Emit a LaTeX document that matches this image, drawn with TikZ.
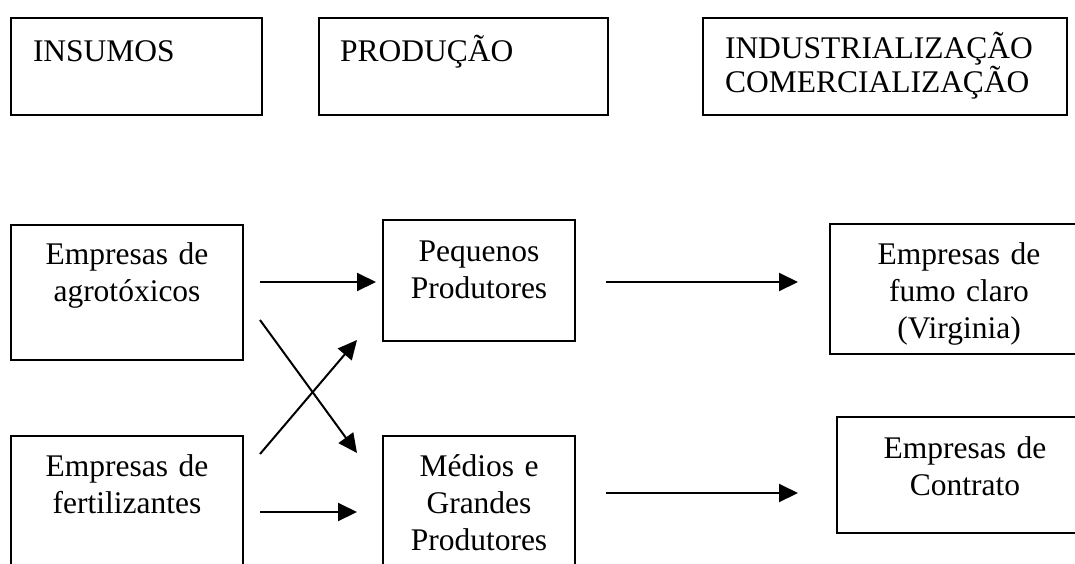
\documentclass[tikz,border=0pt]{standalone}
\usepackage{fontspec}
\setmainfont{Liberation Serif}
\usetikzlibrary{arrows.meta}

\tikzset{
  caixa/.style={draw, line width=2pt, inner ysep=0pt, anchor=north west},
  titulo/.style={caixa, align=left, inner xsep=22pt,
    font=\fontsize{31.5}{34.5}\selectfont},
  bloco/.style={caixa, align=center, inner xsep=0pt,
    font=\fontsize{31.5}{37}\selectfont},
  seta/.style={line width=2pt, -{Triangle[length=19pt,width=18pt]}}
}

\begin{document}
\begin{tikzpicture}[x=1pt,y=-1pt]

      \useasboundingbox (0,0) rectangle (1075,563);
      \clip (0,0) rectangle (1075,563);

      % cabecalho
      \node[titulo, text width=207pt, text height=43pt, text depth=54pt]
        (insumos) at (10,17) {INSUMOS};
      \node[titulo, inner xsep=21pt, text width=247pt, text height=43pt, text depth=54pt]
        (producao) at (318,17) {PRODUÇÃO};
      \node[titulo, text width=320pt, text height=40pt, text depth=57pt]
        (industria) at (702,17) {INDUSTRIALIZAÇÃO\\COMERCIALIZAÇÃO};

      % caixas
      \node[bloco, text width=232pt, text height=39pt, text depth=96pt]
        (agro) at (10,224) {Empresas de\\agrotóxicos};
      \node[bloco, text width=232pt, text height=40pt, text depth=150pt]
        (fert) at (10,435) {Empresas de\\fertilizantes};
      \node[bloco, text width=192pt, text height=41pt, text depth=80pt]
        (peq) at (382,219) {Pequenos\\Produtores};
      \node[bloco, text width=192pt, text height=40pt, text depth=150pt]
        (medios) at (382,435) {Médios e\\Grandes\\Produtores};
      \node[bloco, text width=258pt, text height=40pt, text depth=90pt]
        (fumo) at (829,223) {Empresas de\\fumo claro\\(Virginia)};
      \node[bloco, text width=256pt, text height=41pt, text depth=75pt]
        (contrato) at (836,416) {Empresas de\\Contrato};

      % pontas das setas
      \coordinate (agro1) at (260,282);
      \coordinate (agro2) at (260,320);
      \coordinate (fert1) at (260,454);
      \coordinate (fert2) at (260,512);
      \coordinate (peq1)  at (376,282);
      \coordinate (peq2)  at (357,340);
      \coordinate (med1)  at (357,453);
      \coordinate (med2)  at (357,512);
      \coordinate (peq3)  at (606,282);
      \coordinate (med3)  at (606,493);
      \coordinate (fumo1) at (798,282);
      \coordinate (cont1) at (798,493);

      \draw[seta] (agro1) -- (peq1);
      \draw[seta] (agro2) -- (med1);
      \draw[seta] (fert1) -- (peq2);
      \draw[seta] (fert2) -- (med2);
      \draw[seta] (peq3) -- (fumo1);
      \draw[seta] (med3) -- (cont1);

    \end{tikzpicture}
\end{document}
